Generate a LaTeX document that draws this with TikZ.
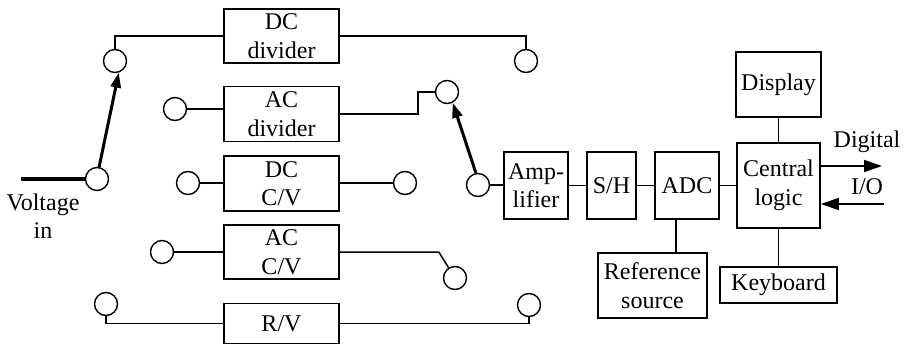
\documentclass[tikz,border=0pt]{standalone}
\usepackage{fontspec}
\setmainfont{Liberation Serif}
\usetikzlibrary{arrows.meta}
\begin{document}
\begin{tikzpicture}[x=1pt,y=-1pt,
  every node/.style={font=\fontsize{24}{28.5}\selectfont},
  blk/.style={draw,line width=1.6pt,inner sep=0pt,align=center},
  term/.style={draw,circle,line width=1.4pt,minimum size=23pt,inner sep=0pt},
  wire/.style={line width=1.5pt},
  lever/.style={line width=3pt,-{Triangle[length=15pt,width=10pt]}},
  io/.style={line width=1.5pt,-{Triangle[length=18pt,width=12pt]}}]
\useasboundingbox (0,0) rectangle (908,345);
% blocks
\node[blk,minimum width=115pt,minimum height=54pt] (dcd) at (281.5,36) {DC\\divider};
\node[blk,minimum width=115pt,minimum height=55pt] (acd) at (281.5,114) {AC\\divider};
\node[blk,minimum width=115pt,minimum height=55pt] (dccv) at (281.5,183.5) {DC\\C/V};
\node[blk,minimum width=115pt,minimum height=54pt] (accv) at (281.5,252) {AC\\C/V};
\node[blk,minimum width=115pt,minimum height=40pt] (rv) at (281.5,323.5) {R/V};
\node[blk,minimum width=64pt,minimum height=67pt] (amp) at (536,185.5) {Amp-\\lifier};
\node[blk,minimum width=49pt,minimum height=67pt] (sh) at (611.5,185.5) {S/H};
\node[blk,minimum width=64pt,minimum height=67pt] (adc) at (687,185.5) {ADC};
\node[blk,minimum width=83pt,minimum height=85pt] (cl) at (778.5,185.5) {Central\\logic};
\node[blk,minimum width=85pt,minimum height=65pt] (disp) at (778.5,84.5) {Display};
\node[blk,minimum width=117pt,minimum height=36pt] (kb) at (778.5,285) {Keyboard};
\node[blk,minimum width=109pt,minimum height=65pt] (ref) at (652.5,285.5) {Reference\\source};
% terminals
\node[term] (c0) at (97,179) {};
\node[term] (c1) at (115,61) {};
\node[term] (c2) at (526,61) {};
\node[term] (c3) at (175,109) {};
\node[term] (c4) at (447,92) {};
\node[term] (c5) at (188,183) {};
\node[term] (c6) at (405,183) {};
\node[term] (c7) at (162,252) {};
\node[term] (c8) at (455,278) {};
\node[term] (c9) at (106,304) {};
\node[term] (c10) at (529,305) {};
\node[term] (ca) at (478,185) {};
\coordinate (vin) at (21,179);
\coordinate (dout) at (882,166);
\coordinate (din) at (884,204);
% labels
\node[align=center] (vlab) at (43,216) {Voltage\\in};
\node (dig) at (867,142) {Digital};
\node (iol) at (867,187) {I/O};
% wiring
\draw[wire] (c1.north) |- (dcd.west);
\draw[wire] (dcd.east) -| (c2.north);
\draw[wire] (c3.east) -- (c3.east -| acd.west);
\draw[wire] (acd.east) -- ++(78,0) |- (c4.west);
\draw[wire] (c5.east) -- (c5.east -| dccv.west);
\draw[wire] (c6.west -| dccv.east) -- (c6.west);
\draw[wire] (c7.east) -- (accv.west);
\draw[wire] (accv.east) -- ++(99,0) -- (c8.122);
\draw[wire] (c9.south) |- (rv.west);
\draw[wire] (rv.east) -| (c10.south);
\draw[line width=3.5pt] (vin) -- (c0.west);
\draw[lever] (c0.80) -- (c1.-72);
\draw[lever] (ca.100) -- (c4.-62);
\draw[wire] (ca.east) -- (ca.east -| amp.west);
\draw[wire] (amp.east) -- (sh.west);
\draw[wire] (sh.east) -- (adc.west);
\draw[wire] (adc.east) -- (cl.west);
\draw[wire] ([xshift=-11pt]adc.south) -- ([xshift=-11pt]adc.south |- ref.north);
\draw[wire] (disp.south) -- (cl.north);
\draw[wire] (cl.south) -- (kb.north);
\draw[io] (cl.east |- dout) -- (dout);
\draw[io] (din) -- (din -| cl.east);
\end{tikzpicture}
\end{document}
